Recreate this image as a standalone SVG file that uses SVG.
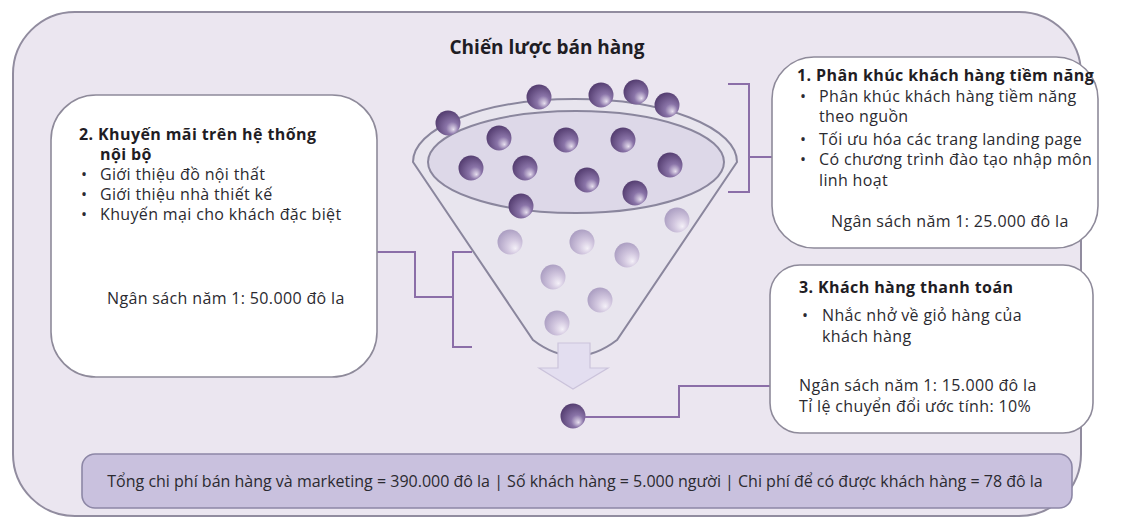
<svg xmlns="http://www.w3.org/2000/svg" width="1121" height="521" viewBox="0 0 1121 521">
  <defs>
    <radialGradient id="ballDark" cx="0.6" cy="0.62" r="0.62" fx="0.72" fy="0.76">
      <stop offset="0" stop-color="#e6deee"/>
      <stop offset="0.4" stop-color="#8a74a8"/>
      <stop offset="1" stop-color="#563f72"/>
    </radialGradient>
    <radialGradient id="ballLight" cx="0.6" cy="0.62" r="0.62" fx="0.72" fy="0.76">
      <stop offset="0" stop-color="#f4f0f8"/>
      <stop offset="0.45" stop-color="#d3c8e0"/>
      <stop offset="1" stop-color="#ada0c3"/>
    </radialGradient>
    <style>
      .frame { fill: #ebe6f0; stroke: #918c9f; stroke-width: 2; }
      .box { fill: #ffffff; stroke: #8e8a9a; stroke-width: 1.6; }
      .bar { fill: #c9c1de; stroke: #8d87a6; stroke-width: 1.6; }
      .funnel { fill: #e8e5ee; stroke: #8a869d; stroke-width: 2; }
      .mouth { fill: #ddd8e8; stroke: #8a869d; stroke-width: 2; }
      .arrow { fill: #e3def0; stroke: #cbc3db; stroke-width: 1.2; }
      .dark { fill: url(#ballDark); }
      .light { fill: url(#ballLight); }
      .link { fill: none; stroke: #8b6ea8; stroke-width: 2; }
      text { font-family: "Open Sans", "Liberation Sans", sans-serif; fill: #2b2a30; }
      .t { font-size: 16px; letter-spacing: 0.35px; }
      .b { font-size: 16px; font-weight: bold; letter-spacing: 0.4px; fill: #1f1d24; }
      .h { font-size: 19px; font-weight: bold; fill: #1f1d24; }
      .s { font-size: 16px; }
    </style>
  </defs>

  <!-- outer frame -->
  <rect class="frame" x="13" y="12" width="1068" height="504" rx="62" ry="62"/>

  <!-- heading -->
  <text class="h" x="547" y="54" text-anchor="middle">Chiến lược bán hàng</text>

  <!-- sales funnel -->
  <g id="funnel">
    <path class="funnel" d="M413,162 A162,63 0 0 1 737,162 L617,340 Q575,372 533,340 Z"/>
    <ellipse class="mouth" cx="576" cy="162" rx="148" ry="51"/>
    <g id="leads">
      <circle class="dark" cx="448" cy="123" r="12.5"/>
      <circle class="dark" cx="539" cy="97" r="12.5"/>
      <circle class="dark" cx="601" cy="95" r="12.5"/>
      <circle class="dark" cx="636" cy="92" r="12.5"/>
      <circle class="dark" cx="667" cy="105" r="12.5"/>
      <circle class="dark" cx="499" cy="138" r="12.5"/>
      <circle class="dark" cx="566" cy="140" r="12.5"/>
      <circle class="dark" cx="623" cy="140" r="12.5"/>
      <circle class="dark" cx="471" cy="168" r="12.5"/>
      <circle class="dark" cx="525" cy="168" r="12.5"/>
      <circle class="dark" cx="587" cy="180" r="12.5"/>
      <circle class="dark" cx="670" cy="165" r="12.5"/>
      <circle class="dark" cx="635" cy="193" r="12.5"/>
      <circle class="dark" cx="521" cy="206" r="12.5"/>
    </g>
    <g id="prospects">
      <circle class="light" cx="677" cy="220" r="12.5"/>
      <circle class="light" cx="510" cy="242" r="12.5"/>
      <circle class="light" cx="582" cy="242" r="12.5"/>
      <circle class="light" cx="627" cy="255" r="12.5"/>
      <circle class="light" cx="553" cy="277" r="12.5"/>
      <circle class="light" cx="600" cy="300" r="12.5"/>
      <circle class="light" cx="557" cy="323" r="12.5"/>
    </g>
    <polygon class="arrow" points="558,343 590,343 590,368 608,368 573,389 539,368 558,368"/>
  </g>

  <!-- converted customer -->
  <g id="customer">
    <circle class="dark" cx="573" cy="416" r="12.5"/>
  </g>

  <!-- connectors -->
  <g id="connectors">
    <path class="link" d="M728,84 H749 V192 H728 M749,157 H772"/>
    <path class="link" d="M377,252 H415 V297 H453 M472,252 H453 V347 H472"/>
    <path class="link" d="M585,417 H679 V386 H770"/>
  </g>

  <!-- step 1 -->
  <g id="node-segment">
    <rect class="box" x="772" y="57" width="326" height="191" rx="42" ry="42"/>
    <text class="b" x="797" y="81">1. Phân khúc khách hàng tiềm năng</text>
    <text class="t" x="800" y="102">•</text>
    <text class="t" x="819" y="102">Phân khúc khách hàng tiềm năng</text>
    <text class="t" x="819" y="122">theo nguồn</text>
    <text class="t" x="800" y="145">•</text>
    <text class="t" x="819" y="145">Tối ưu hóa các trang landing page</text>
    <text class="t" x="800" y="165">•</text>
    <text class="t" x="819" y="165">Có chương trình đào tạo nhập môn</text>
    <text class="t" x="819" y="186">linh hoạt</text>
    <text class="t" x="831" y="227">Ngân sách năm 1: 25.000 đô la</text>
  </g>

  <!-- step 2 -->
  <g id="node-promo">
    <rect class="box" x="51" y="95" width="326" height="282" rx="45" ry="45"/>
    <text class="b" x="79" y="140">2. Khuyến mãi trên hệ thống</text>
    <text class="b" x="100" y="160">nội bộ</text>
    <text class="t" x="81" y="180">•</text>
    <text class="t" x="100" y="180">Giới thiệu đồ nội thất</text>
    <text class="t" x="81" y="200">•</text>
    <text class="t" x="100" y="200">Giới thiệu nhà thiết kế</text>
    <text class="t" x="81" y="220">•</text>
    <text class="t" x="100" y="220">Khuyến mại cho khách đặc biệt</text>
    <text class="t" x="107" y="304">Ngân sách năm 1: 50.000 đô la</text>
  </g>

  <!-- step 3 -->
  <g id="node-payment">
    <rect class="box" x="770" y="265" width="323" height="168" rx="30" ry="30"/>
    <text class="b" x="799" y="293">3. Khách hàng thanh toán</text>
    <text class="t" x="802" y="321">•</text>
    <text class="t" x="822" y="321">Nhắc nhở về giỏ hàng của</text>
    <text class="t" x="822" y="342">khách hàng</text>
    <text class="t" x="799" y="391">Ngân sách năm 1: 15.000 đô la</text>
    <text class="t" x="799" y="412">Tỉ lệ chuyển đổi ước tính: 10%</text>
  </g>

  <!-- totals -->
  <g id="summary">
    <rect class="bar" x="82" y="454" width="990" height="54" rx="13" ry="13"/>
    <text class="s" x="575" y="487" text-anchor="middle">Tổng chi phí bán hàng và marketing = 390.000 đô la | Số khách hàng = 5.000 người | Chi phí để có được khách hàng = 78 đô la</text>
  </g>
</svg>
